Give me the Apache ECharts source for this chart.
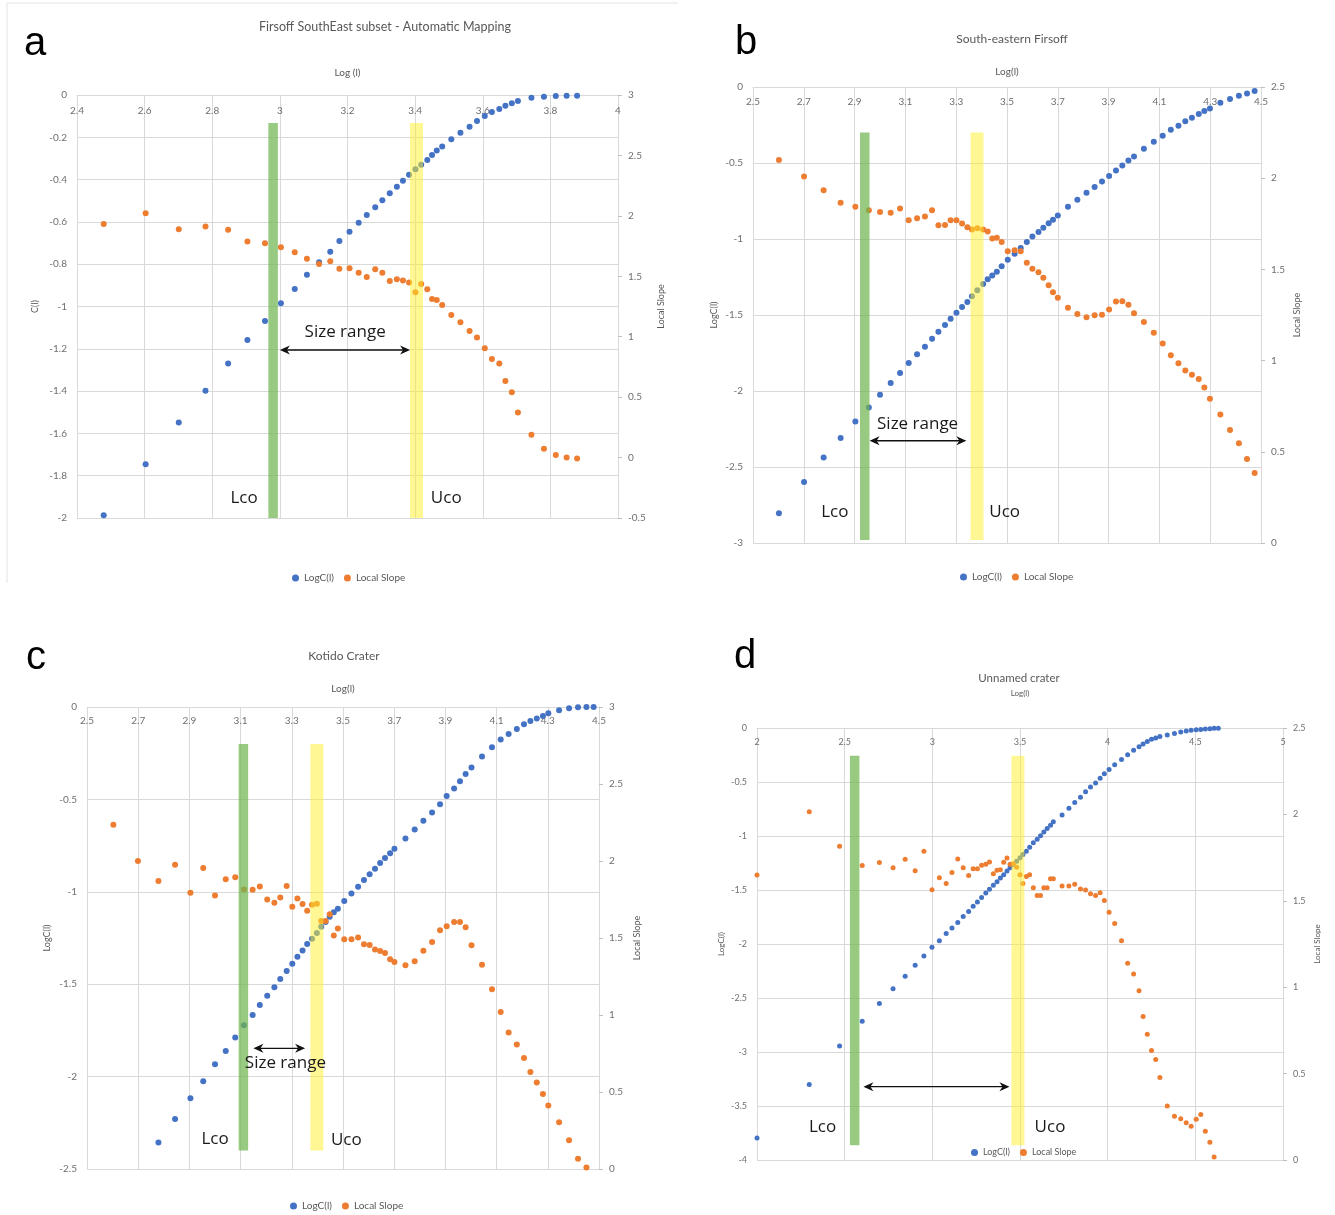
<!DOCTYPE html>
<html>
<head>
<meta charset="utf-8">
<script src="https://cdn.jsdelivr.net/npm/echarts@6/dist/echarts.min.js"></script>
<style>
html, body { margin: 0; padding: 0; background: #fff; }
#main { width: 1335px; height: 1215px; }
</style>
</head>
<body>
<div id="main"></div>
<script>
// ---- panel a : Firsoff SouthEast subset ----
var aLogL = [2.479, 2.603, 2.701, 2.780, 2.847, 2.904, 2.956, 3.003, 3.044, 3.080,
    3.116, 3.149, 3.176, 3.206, 3.233, 3.257, 3.282, 3.303, 3.325, 3.346,
    3.364, 3.382, 3.401, 3.418, 3.436, 3.450, 3.464, 3.480, 3.507, 3.534,
    3.561, 3.583, 3.606, 3.627, 3.649, 3.667, 3.686, 3.704, 3.744, 3.781,
    3.816, 3.848, 3.879];
var aLogC = [-1.987, -1.746, -1.548, -1.398, -1.270, -1.158, -1.069, -0.985, -0.917, -0.850,
    -0.791, -0.741, -0.690, -0.646, -0.604, -0.567, -0.531, -0.498, -0.465, -0.434,
    -0.405, -0.377, -0.351, -0.330, -0.307, -0.284, -0.263, -0.244, -0.209, -0.178,
    -0.150, -0.123, -0.099, -0.080, -0.066, -0.051, -0.039, -0.028, -0.013, -0.008,
    -0.005, -0.003, -0.003];
var aSlope = [1.933, 2.022, 1.889, 1.911, 1.886, 1.787, 1.773, 1.740, 1.699, 1.646,
    1.602, 1.624, 1.563, 1.566, 1.530, 1.495, 1.558, 1.530, 1.462, 1.476,
    1.465, 1.448, 1.368, 1.437, 1.393, 1.313, 1.304, 1.263, 1.180, 1.120,
    1.048, 0.993, 0.905, 0.816, 0.778, 0.634, 0.541, 0.372, 0.188, 0.072,
    0.022, 0.000, -0.008];
var aCut = [2.98, 3.404];

// ---- panel b : South-eastern Firsoff ----
var bLogL = [2.602, 2.701, 2.778, 2.845, 2.903, 2.956, 3.000, 3.042, 3.079, 3.113,
    3.146, 3.177, 3.205, 3.230, 3.256, 3.278, 3.301, 3.323, 3.344, 3.362,
    3.383, 3.406, 3.424, 3.442, 3.460, 3.479, 3.503, 3.530, 3.554, 3.578,
    3.600, 3.624, 3.643, 3.664, 3.681, 3.700, 3.740, 3.777, 3.813, 3.845,
    3.874, 3.902, 3.929, 3.954, 3.978, 4.000, 4.039, 4.078, 4.113, 4.145,
    4.175, 4.202, 4.228, 4.255, 4.277, 4.299, 4.340, 4.378, 4.413, 4.445, 4.475];
var bLogC = [-2.805, -2.599, -2.437, -2.309, -2.200, -2.108, -2.024, -1.947, -1.882, -1.816,
    -1.759, -1.709, -1.656, -1.610, -1.566, -1.524, -1.485, -1.447, -1.414, -1.376,
    -1.337, -1.296, -1.265, -1.240, -1.215, -1.180, -1.136, -1.097, -1.059, -1.020,
    -0.983, -0.954, -0.926, -0.897, -0.873, -0.845, -0.788, -0.741, -0.695, -0.658,
    -0.621, -0.586, -0.549, -0.516, -0.483, -0.457, -0.406, -0.360, -0.320, -0.281,
    -0.255, -0.226, -0.202, -0.178, -0.158, -0.141, -0.103, -0.079, -0.057, -0.042, -0.026];
var bSlope = [2.100, 2.009, 1.934, 1.865, 1.843, 1.824, 1.815, 1.810, 1.834, 1.769,
    1.780, 1.790, 1.824, 1.742, 1.744, 1.769, 1.769, 1.751, 1.731, 1.719,
    1.726, 1.719, 1.708, 1.669, 1.673, 1.650, 1.600, 1.605, 1.600, 1.536,
    1.503, 1.485, 1.454, 1.413, 1.375, 1.344, 1.290, 1.255, 1.238, 1.249,
    1.251, 1.280, 1.324, 1.326, 1.306, 1.260, 1.211, 1.153, 1.094, 1.030,
    0.985, 0.946, 0.923, 0.899, 0.853, 0.791, 0.705, 0.619, 0.547, 0.461, 0.384];
var bCut = [2.94, 3.382];

// ---- panel c : Kotido Crater ----
var cLogL = [2.603, 2.699, 2.779, 2.844, 2.904, 2.954, 3.000, 3.042, 3.079, 3.113,
    3.147, 3.175, 3.204, 3.232, 3.255, 3.280, 3.302, 3.322, 3.342, 3.360,
    3.379, 3.398, 3.415, 3.432, 3.448, 3.464, 3.480, 3.505, 3.533, 3.559,
    3.582, 3.604, 3.625, 3.645, 3.664, 3.684, 3.701, 3.744, 3.780, 3.814,
    3.848, 3.879, 3.905, 3.934, 3.957, 3.979, 4.002, 4.043, 4.082, 4.116,
    4.147, 4.179, 4.207, 4.232, 4.257, 4.281, 4.302, 4.344, 4.383, 4.418, 4.451, 4.479];
var cLogC = [null, null, -2.357, -2.230, -2.117, -2.025, -1.933, -1.861, -1.789, -1.722,
    -1.667, -1.612, -1.562, -1.517, -1.472, -1.429, -1.389, -1.351, -1.317, -1.283,
    -1.254, -1.223, -1.189, -1.164, -1.135, -1.111, -1.092, -1.050, -1.009, -0.972,
    -0.936, -0.905, -0.875, -0.844, -0.817, -0.792, -0.767, -0.711, -0.663, -0.616,
    -0.571, -0.526, -0.481, -0.441, -0.402, -0.362, -0.328, -0.268, -0.218, -0.176,
    -0.146, -0.119, -0.094, -0.076, -0.062, -0.049, -0.034, -0.018, -0.007, -0.002, 0, 0];
var cSlope = [2.236, 2.000, 1.870, 1.976, 1.794, 1.955, 1.776, 1.882, 1.895, 1.815,
    1.813, 1.835, 1.750, 1.729, 1.763, 1.837, 1.703, 1.757, 1.720, 1.677,
    1.716, 1.722, 1.610, 1.610, 1.655, 1.517, 1.561, 1.492, 1.492, 1.503,
    1.459, 1.455, 1.425, 1.416, 1.403, 1.362, 1.344, 1.323, 1.349, 1.418,
    1.474, 1.550, 1.576, 1.604, 1.604, 1.569, 1.453, 1.327, 1.167, 1.019,
    0.886, 0.808, 0.721, 0.630, 0.561, 0.487, 0.412, 0.303, 0.186, 0.067, 0.010, null];
var cCut = [3.111, 3.398];

// ---- panel d : Unnamed crater ----
var dLogL = [2.000, 2.298, 2.471, 2.600, 2.698, 2.776, 2.845, 2.902, 2.952, 2.998,
    3.040, 3.079, 3.112, 3.145, 3.176, 3.207, 3.233, 3.257, 3.281, 3.305,
    3.326, 3.348, 3.369, 3.388, 3.407, 3.426, 3.443, 3.462, 3.481, 3.500,
    3.517, 3.536, 3.555, 3.576, 3.598, 3.617, 3.636, 3.655, 3.674, 3.690,
    3.740, 3.779, 3.812, 3.845, 3.874, 3.902, 3.931, 3.957, 3.981, 4.008,
    4.040, 4.079, 4.114, 4.148, 4.179, 4.202, 4.226, 4.250, 4.274, 4.298,
    4.340, 4.381, 4.417, 4.448, 4.476, 4.505, 4.531, 4.557, 4.583, 4.607, 4.631];
var dLogC = [-3.796, -3.300, -2.944, -2.716, -2.550, -2.414, -2.299, -2.197, -2.112, -2.031,
    -1.969, -1.902, -1.851, -1.800, -1.745, -1.698, -1.650, -1.610, -1.569, -1.528,
    -1.494, -1.457, -1.423, -1.389, -1.358, -1.324, -1.294, -1.263, -1.233, -1.202,
    -1.171, -1.141, -1.104, -1.063, -1.029, -0.998, -0.964, -0.930, -0.900, -0.869,
    -0.805, -0.744, -0.689, -0.642, -0.591, -0.547, -0.509, -0.465, -0.424, -0.385,
    -0.340, -0.292, -0.248, -0.207, -0.173, -0.149, -0.126, -0.105, -0.092, -0.078,
    -0.065, -0.051, -0.037, -0.027, -0.020, -0.017, -0.014, -0.010, -0.007, -0.003, -0.003];
var dSlope = [1.649, 2.016, 1.815, 1.704, 1.721, 1.691, 1.740, 1.674, 1.787, 1.564,
    1.634, 1.600, 1.664, 1.742, 1.691, 1.647, 1.685, 1.685, 1.706, 1.711,
    1.725, 1.657, 1.677, 1.679, 1.723, 1.747, 1.711, 1.715, 1.694, 1.651,
    1.600, 1.640, 1.651, 1.575, 1.531, 1.531, 1.575, 1.575, 1.628, 1.628,
    1.585, 1.585, 1.596, 1.568, 1.562, 1.541, 1.530, 1.547, 1.502, 1.434,
    1.368, 1.269, 1.139, 1.076, 0.980, 0.830, 0.728, 0.633, 0.582, 0.478,
    0.312, 0.253, 0.238, 0.215, 0.196, 0.236, 0.264, 0.166, 0.103, 0.018, null];
var dCut = [2.557, 3.488];

var FONT = 'Lato, "Open Sans", sans-serif';
var GREY = '#595959';
var TICK = '#6f6f6f';
var GRIDC = '#d9d9d9';
var BLUE = '#4472C4';
var ORANGE = '#ED7D31';

var panels = [
    {
        letter: 'a', letterAt: [35, 44],
        title: 'Firsoff SouthEast subset - Automatic Mapping', titleAt: [385, 27], titleSize: 12.5,
        grid: { left: 77, top: 95, width: 541, height: 423 },
        x: { min: 2.4, max: 4, interval: 0.2, name: 'Log (l)', gap: 17, margin: 11 },
        yl: { min: -2, max: 0, interval: 0.2, name: 'C(l)', gap: 37 },
        yr: { min: -0.5, max: 3, interval: 0.5, gap: 39 },
        fontSize: 10, symbolSize: 6,
        logL: aLogL, logC: aLogC, slope: aSlope, cut: aCut,
        bandY: [-0.132, -2], arrow: [3.0, 3.385, -1.206],
        sizeText: [3.193, -1.121], lco: [2.894, -1.905], uco: [3.492, -1.905],
        legend: { left: 287, top: 568 }
    },
    {
        letter: 'b', letterAt: [746, 43],
        title: 'South-eastern Firsoff', titleAt: [1012, 39], titleSize: 12,
        grid: { left: 753, top: 87, width: 508, height: 456 },
        x: { min: 2.5, max: 4.5, interval: 0.2, name: 'Log(l)', gap: 10, margin: 10 },
        yl: { min: -3, max: 0, interval: 0.5, name: 'LogC(l)', gap: 34 },
        yr: { min: 0, max: 2.5, interval: 0.5, gap: 32 },
        fontSize: 10, symbolSize: 6,
        logL: bLogL, logC: bLogC, slope: bSlope, cut: bCut,
        bandY: [-0.299, -2.98], arrow: [2.959, 3.340, -2.327],
        sizeText: [3.148, -2.215], lco: [2.822, -2.794], uco: [3.491, -2.794],
        legend: { left: 955, top: 567 }
    },
    {
        letter: 'c', letterAt: [36, 658],
        title: 'Kotido Crater', titleAt: [344, 656], titleSize: 12,
        grid: { left: 87, top: 707, width: 512, height: 462 },
        x: { min: 2.5, max: 4.5, interval: 0.2, name: 'Log(l)', gap: 13, margin: 9 },
        yl: { min: -2.5, max: 0, interval: 0.5, name: 'LogC(l)', gap: 35 },
        yr: { min: 0, max: 3, interval: 0.5, gap: 34 },
        fontSize: 10, symbolSize: 6,
        logL: cLogL, logC: cLogC, slope: cSlope, cut: cCut,
        bandY: [-0.2, -2.4], arrow: [3.150, 3.352, -1.847],
        sizeText: [3.275, -1.928], lco: [3.000, -2.337], uco: [3.513, -2.342],
        legend: { left: 285, top: 1196 }
    },
    {
        letter: 'd', letterAt: [745, 657],
        title: 'Unnamed crater', titleAt: [1019, 678], titleSize: 11.5,
        grid: { left: 757, top: 728, width: 526, height: 432 },
        x: { min: 2, max: 5, interval: 0.5, name: 'Log(l)', gap: 31, margin: 10, nameSize: 8 },
        yl: { min: -4, max: 0, interval: 0.5, name: 'LogC(l)', gap: 32 },
        yr: { min: 0, max: 2.5, interval: 0.5, gap: 30 },
        fontSize: 9, symbolSize: 5,
        logL: dLogL, logC: dLogC, slope: dSlope, cut: dCut,
        bandY: [-0.258, -3.864], arrow: [2.607, 3.440, -3.321],
        sizeText: null, lco: [2.374, -3.694], uco: [3.671, -3.694],
        legend: { left: 966, top: 1143 }
    }
];

function pairs(xs, ys) {
    var out = [];
    xs.forEach(function (x, k) {
        if (ys[k] !== null && ys[k] !== undefined) out.push([x, ys[k]]);
    });
    return out;
}

var chart = echarts.init(document.getElementById('main'));

var option = {
    animation: false,
    backgroundColor: '#fff',
    textStyle: { fontFamily: FONT },
    grid: [], xAxis: [], yAxis: [], series: [], legend: []
};

panels.forEach(function (p, i) {
    var fs = p.fontSize;
    var labelStyle = { color: TICK, fontSize: fs, fontFamily: FONT };
    var nameStyle = { color: GREY, fontSize: p.x.nameSize || fs, fontFamily: FONT };
    option.grid.push({
        left: p.grid.left, top: p.grid.top, width: p.grid.width, height: p.grid.height
    });
    option.xAxis.push({
        gridIndex: i, type: 'value', position: 'top',
        min: p.x.min, max: p.x.max, interval: p.x.interval,
        name: p.x.name, nameLocation: 'middle', nameGap: p.x.gap, nameTextStyle: nameStyle,
        axisLine: { show: true, onZero: false, lineStyle: { color: GRIDC } },
        axisTick: { show: false },
        axisLabel: Object.assign({ inside: true, margin: p.x.margin, showMinLabel: true, showMaxLabel: true }, labelStyle),
        splitLine: { show: true, lineStyle: { color: GRIDC } }
    });
    option.yAxis.push({
        gridIndex: i, type: 'value', position: 'left',
        min: p.yl.min, max: p.yl.max, interval: p.yl.interval,
        name: p.yl.name, nameLocation: 'middle', nameGap: p.yl.gap,
        nameTextStyle: { color: GREY, fontSize: fs - 1, fontFamily: FONT },
        axisLine: { show: false },
        axisTick: { show: false },
        axisLabel: Object.assign({ margin: 10, showMinLabel: true, showMaxLabel: true }, labelStyle),
        splitLine: { show: true, lineStyle: { color: GRIDC } }
    });
    option.yAxis.push({
        gridIndex: i, type: 'value', position: 'right',
        min: p.yr.min, max: p.yr.max, interval: p.yr.interval,
        name: 'Local Slope', nameLocation: 'middle', nameGap: p.yr.gap,
        nameTextStyle: { color: GREY, fontSize: fs - 1, fontFamily: FONT },
        axisLine: { show: true, lineStyle: { color: GRIDC } },
        axisTick: { show: true, length: 4, lineStyle: { color: '#bfbfbf' } },
        axisLabel: Object.assign({ margin: 10, showMinLabel: true, showMaxLabel: true }, labelStyle),
        splitLine: { show: false }
    });
    option.series.push({
        name: 'LogC(l)', type: 'scatter', xAxisIndex: i, yAxisIndex: 2 * i,
        symbol: 'circle', symbolSize: p.symbolSize,
        itemStyle: { color: BLUE, opacity: 1 },
        data: pairs(p.logL, p.logC)
    });
    option.series.push({
        name: 'Local Slope', type: 'scatter', xAxisIndex: i, yAxisIndex: 2 * i + 1,
        symbol: 'circle', symbolSize: p.symbolSize,
        itemStyle: { color: ORANGE, opacity: 1 },
        data: pairs(p.logL, p.slope)
    });
    option.legend.push({
        left: p.legend.left, top: p.legend.top,
        icon: 'circle', itemWidth: 7, itemHeight: 7, itemGap: 10,
        selectedMode: false,
        data: ['LogC(l)', 'Local Slope'],
        textStyle: { color: GREY, fontSize: fs, fontFamily: FONT }
    });
});

chart.setOption(option);

// annotations: cut-off bands, size-range arrows and labels, placed through the axes
var graphics = [];
graphics.push({
    type: 'polyline', shape: { points: [[7, 583], [7, 3], [678, 3]] },
    style: { stroke: '#e3e3e3', fill: null, lineWidth: 1 }, z: 1
});

function arrowHead(x, y, dir) {
    return {
        type: 'polygon', z: 12,
        shape: { points: [[x, y], [x + dir * 10, y - 4.5], [x + dir * 7, y], [x + dir * 10, y + 4.5]] },
        style: { fill: '#111' }
    };
}

function label(txt, pt, size) {
    return {
        type: 'text', x: pt[0], y: pt[1], z: 12,
        style: {
            text: txt, fill: '#1a1a1a', fontSize: size, fontFamily: '"Open Sans", Lato, sans-serif',
            align: 'center', verticalAlign: 'middle'
        }
    };
}

panels.forEach(function (p, i) {
    var finder = { xAxisIndex: i, yAxisIndex: 2 * i };
    function px(x, y) { return chart.convertToPixel(finder, [x, y]); }

    var bandFill = ['rgba(112,182,80,0.72)', 'rgba(255,240,40,0.5)'];
    var bandW = [9.5, 13];
    p.cut.forEach(function (c, k) {
        var top = px(c, p.bandY[0]);
        var bot = px(c, p.bandY[1]);
        graphics.push({
            type: 'rect', z: 10,
            shape: { x: top[0] - bandW[k] / 2, y: top[1], width: bandW[k], height: bot[1] - top[1] },
            style: { fill: bandFill[k] }
        });
    });

    var a0 = px(p.arrow[0], p.arrow[2]);
    var a1 = px(p.arrow[1], p.arrow[2]);
    graphics.push({
        type: 'line', z: 11,
        shape: { x1: a0[0] + 6, y1: a0[1], x2: a1[0] - 6, y2: a1[1] },
        style: { stroke: '#111', lineWidth: 1.4 }
    });
    graphics.push(arrowHead(a0[0], a0[1], 1));
    graphics.push(arrowHead(a1[0], a1[1], -1));

    if (p.sizeText) graphics.push(label('Size range', px(p.sizeText[0], p.sizeText[1]), 17));
    graphics.push(label('Lco', px(p.lco[0], p.lco[1]), 17));
    graphics.push(label('Uco', px(p.uco[0], p.uco[1]), 17));

    graphics.push({
        type: 'text', x: p.titleAt[0], y: p.titleAt[1], z: 12,
        style: { text: p.title, fill: GREY, fontSize: p.titleSize, fontFamily: FONT, align: 'center', verticalAlign: 'middle' }
    });
    graphics.push({
        type: 'text', x: p.letterAt[0], y: p.letterAt[1], z: 12,
        style: { text: p.letter, fill: '#000', fontSize: 40, fontFamily: '"Liberation Sans", Arial, sans-serif', align: 'center', verticalAlign: 'middle' }
    });
});

chart.setOption({ graphic: graphics });

window.onresize = function () {
    chart.resize();
};
</script>
</body>
</html>
